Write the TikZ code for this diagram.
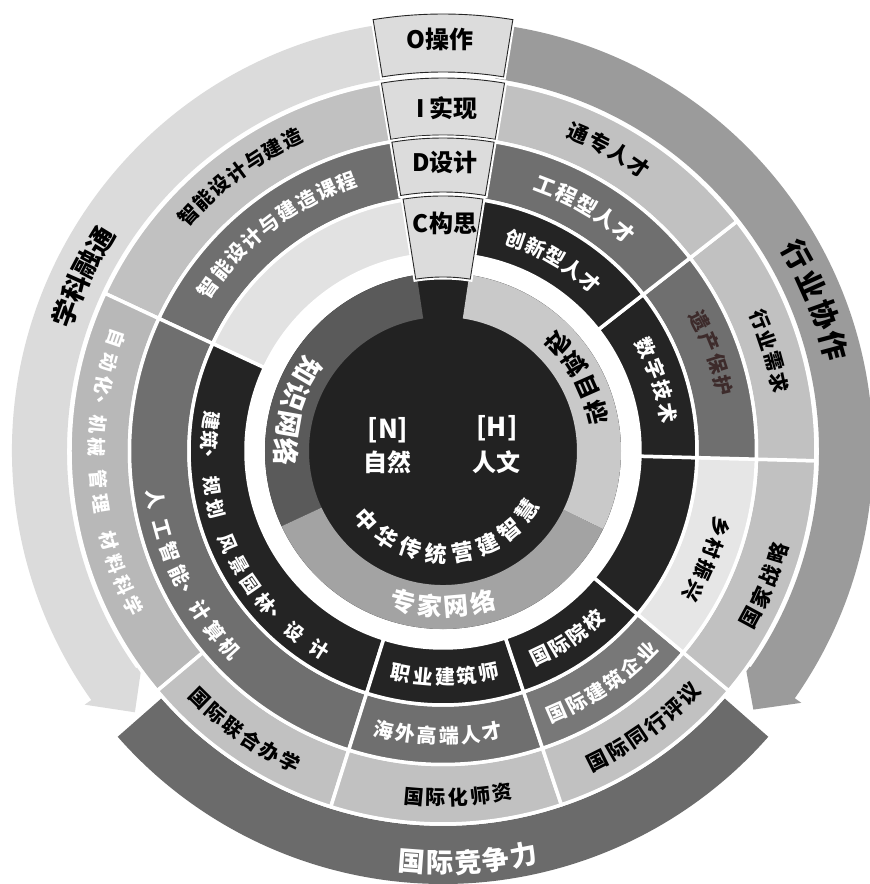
\documentclass[tikz,border=0pt]{standalone}
\usepackage{fontspec}
\setmainfont{Noto Sans CJK SC}
\definecolor{core}{HTML}{222222}
\definecolor{kn}{HTML}{5A5A5A}
\definecolor{ex}{HTML}{A3A3A3}
\definecolor{fd}{HTML}{C9C9C9}
\definecolor{blk}{HTML}{242424}
\definecolor{ltthree}{HTML}{E2E2E2}
\definecolor{gfour}{HTML}{6F6F6F}
\definecolor{gfourb}{HTML}{787878}
\definecolor{ltfour}{HTML}{E6E6E6}
\definecolor{gfive}{HTML}{C1C1C1}
\definecolor{gfiveb}{HTML}{B8B8B8}
\definecolor{arrL}{HTML}{DBDBDB}
\definecolor{arrR}{HTML}{9B9B9B}
\definecolor{bot}{HTML}{6B6B6B}
\definecolor{cd}{HTML}{DCDCDC}
\definecolor{brown}{HTML}{3D2B2B}
\newcommand\ringsec[5]{%
  \path[#5] (#3:#1pt) arc[start angle=#3,end angle=#4,radius=#1pt] -- (#4:#2pt) arc[start angle=#4,end angle=#3,radius=#2pt] -- cycle;}
\newcommand\arctxt[7]{%
  \foreach \ch [count=\i from 0] in {#7}{%
    \pgfmathsetmacro\ang{#3+\i*(#4)}%
    \node[#6, rotate={\ang#5}] (#1-\i) at (\ang:#2pt) {\ch};}}
\newcommand\ptxt[5]{%
  \foreach \ang/\ch [count=\i] in {#5}{%
    \node[#4, rotate={\ang#3}] (#1-\i) at (\ang:#2pt) {\ch};}}
\tikzset{
  tx/.style={inner sep=0pt, font=\bfseries\fontsize{#1}{#1}\selectfont},
  seg/.style={fill=#1, draw=white, line width=3.5pt, line join=round},
  cboxw/.style={draw=white, line width=5pt},
  cboxf/.style={fill=cd, draw=black!85, line width=0.9pt},
}
\begin{document}
\begin{tikzpicture}[x=1pt,y=1pt]
\useasboundingbox (-443,-433) rectangle (427,451);
\fill[white] (-443,-433) rectangle (427,451);

% outer arrows
\fill[arrL] (98:431pt) arc[start angle=98,end angle=215.3,radius=431pt] -- (215.3:439pt) -- (220.3:404pt) -- (215.3:369pt) -- (215.3:376pt) arc[start angle=215.3,end angle=98,radius=376pt] -- cycle;
\fill[arrR] (82:430pt) arc[start angle=82,end angle=-35.1,radius=430pt] -- (-35.1:438pt) -- (-39.8:404pt) -- (-35.1:369pt) -- (-35.1:376pt) arc[start angle=-35.1,end angle=82,radius=376pt] -- cycle;
\ringsec{375}{433}{221.3}{318.7}{fill=bot}

% ring 5
\ringsec{313.5}{373}{99}{155}{seg=gfive}
\ringsec{313.5}{373}{155}{220}{seg=gfiveb}
\ringsec{313.5}{373}{220}{252.5}{seg=gfive}
\ringsec{313.5}{373}{252.5}{288.5}{seg=gfive}
\ringsec{313.5}{373}{288.5}{320}{seg=gfive}
\ringsec{313.5}{373}{320}{358.5}{seg=gfive}
\ringsec{313.5}{373}{358.5}{398}{seg=gfive}
\ringsec{313.5}{373}{38}{81}{seg=gfive}
% ring 4
\ringsec{254}{313.5}{99}{155}{seg=gfour}
\ringsec{254}{313.5}{155}{252.5}{seg=gfour}
\ringsec{254}{313.5}{252.5}{288.5}{seg=gfour}
\ringsec{254}{313.5}{288.5}{320}{seg=gfourb}
\ringsec{254}{313.5}{320}{358.5}{seg=ltfour}
\ringsec{254}{313.5}{358.5}{398}{seg=gfour}
\ringsec{254}{313.5}{38}{81}{seg=gfour}
% ring 3
\ringsec{197}{254}{99}{155}{seg=ltthree}
\ringsec{197}{254}{155}{252.5}{seg=blk}
\ringsec{197}{254}{252.5}{288.5}{seg=blk}
\ringsec{197}{254}{288.5}{320}{seg=blk}
\ringsec{197}{254}{320}{358.5}{seg=blk}
\ringsec{197}{254}{358.5}{398}{seg=blk}
\ringsec{197}{254}{38}{81}{seg=blk}
% ring 2 and core
\fill[core] (0,0) circle (178pt);
\ringsec{134}{178}{98.5}{205}{fill=kn}
\ringsec{134}{178}{205}{334}{fill=ex}
\ringsec{134}{178}{334}{441.5}{fill=fd}

% CDIO boxes
\ringsec{379}{437}{80.8}{99.2}{cboxw}
\ringsec{379}{437}{80.8}{99.2}{cboxf}
\ringsec{316}{373}{80.5}{99.5}{cboxw}
\ringsec{316}{373}{80.5}{99.5}{cboxf}
\ringsec{259}{313}{80.6}{99.4}{cboxw}
\ringsec{259}{313}{80.6}{99.4}{cboxf}
\ringsec{174}{255}{81}{99}{cboxw}
\ringsec{174}{255}{81}{99}{cboxf}
\node[tx=24] (O) at (-3,412) {O操作};
\node[tx=24] (I) at (4,343) {I 实现};
\node[tx=24] (D) at (2,289) {D设计};
\node[tx=24] (C) at (2,228) {C构思};

% core texts
\node[tx=26,text=white] (N) at (-55,21) {[N]};
\node[tx=24,text=white] (Nz) at (-55,-11) {自然};
\node[tx=26,text=white] (H) at (54,23) {[H]};
\node[tx=24,text=white] (Hr) at (54,-11) {人文};
\arctxt{zh}{103}{222}{14.7}{+90}{tx=22,text=white}{中,华,传,统,营,建,智,慧}

% ring 2 texts
\arctxt{zs}{157}{149.5}{10.3}{+90}{tx=27,text=white}{知,识,网,络}
\arctxt{zj}{156}{255}{10}{+90}{tx=25,text=white}{专,家,网,络}
\foreach \ch [count=\i from 0] in {场,域,目,标}{%
  \pgfmathsetmacro\ang{43-\i*9.6}%
  \node[tx=24,rotate={\ang-90},yscale=-1] (fd-\i) at (\ang:158pt) {\ch};}

% ring 3 texts
\arctxt{cx}{224}{71}{-5.5}{-90}{tx=20,text=white}{创,新,型,人,才}
\arctxt{sz}{228}{27}{-5.8}{-90}{tx=20,text=white}{数,字,技,术}
\arctxt{gy}{227}{295.5}{5.4}{+90}{tx=20,text=white}{国,际,院,校}
\arctxt{zy}{226}{259.3}{5.6}{+90}{tx=20,text=white}{职,业,建,筑,师}
\ptxt{jz}{234}{+90}{tx=19,text=white}{172.5/建,177.4/筑,182.0/、,188.6/规,194.3/划,203.2/风,209.2/景,214.8/园,220.4/林,225.3/、,230.7/设,238/计}

% ring 4 texts
\arctxt{kc}{286}{145.2}{-4.44}{-90}{tx=20,text=white}{智,能,设,计,与,建,造,课,程}
\ptxt{rg}{291}{+90}{tx=20,text=white}{189.5/人,195.5/工,200.4/智,205.2/能,209.3/、,213.4/计,218.3/算,222.8/机}
\arctxt{hw}{285}{258}{4.4}{+90}{tx=20,text=white}{海,外,高,端,人,才}
\arctxt{jq}{286}{293.5}{4.4}{+90}{tx=20,text=white}{国,际,建,筑,企,业}
\arctxt{xc}{287}{344.7}{-4.6}{-90}{tx=20}{乡,村,振,兴}
\arctxt{yc}{288}{26.9}{-4.6}{-90}{tx=20,text=brown}{遗,产,保,护}
\arctxt{gc}{284}{68.9}{-4.6}{-90}{tx=21,text=white}{工,程,型,人,才}

% ring 5 texts
\arctxt{zn}{347}{137.2}{-3.57}{-90}{tx=20}{智,能,设,计,与,建,造}
\ptxt{zd}{346}{+90}{tx=19,text=white}{161/自,165.2/动,169/化,172.3/、,175.6/机,179.4/械,184.7/管,188.7/理,195/材,199/料,202.8/科,206.6/学}
\arctxt{lh}{347}{225.5}{3.66}{+90}{tx=20}{国,际,联,合,办,学}
\arctxt{sx}{347}{265.2}{3.66}{+90}{tx=20}{国,际,化,师,资}
\arctxt{py}{346}{296.5}{3.8}{+90}{tx=21}{国,际,同,行,评,议}
\arctxt{gj}{350}{331.5}{3.83}{+90}{tx=21}{国,家,战,略}
\arctxt{xq}{343}{22.5}{-3.7}{-90}{tx=20}{行,业,需,求}
\arctxt{tz}{345}{66.9}{-3.8}{-90}{tx=21}{通,专,人,才}

% ring 6 texts
\arctxt{xk}{402}{160}{-3.87}{-90}{tx=27}{学,科,融,通}
\arctxt{hy}{405}{28.9}{-4.63}{-90}{tx=29}{行,业,协,作}
\arctxt{jz6}{412}{265.7}{3.9}{+90}{tx=27,text=white}{国,际,竞,争,力}
\end{tikzpicture}
\end{document}
